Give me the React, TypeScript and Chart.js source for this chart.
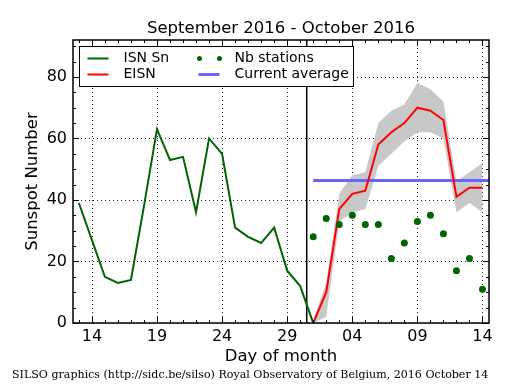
import React, { useEffect, useRef } from "react";
import { Chart, registerables } from "chart.js";

Chart.register(...registerables);

// ---- texts ----
const TITLE = "September 2016 - October 2016";
const X_TITLE = "Day of month";
const Y_TITLE = "Sunspot Number";
const FOOTER = "SILSO graphics (http://sidc.be/silso) Royal Observatory of Belgium, 2016 October 14";

// ---- data (day numbers counted from 1 September 2016; 1 October = 31) ----
const isnStartDay = 13;
const isnValues = [39, 27, 15, 13, 14, 38, 63, 53, 54, 36, 60, 55, 31, 28, 26, 31, 17, 12, 0];

const eisnStartDay = 31;
const eisnValues = [0, 10, 37, 42, 43, 58, 62, 65, 70, 69, 66, 41, 44, 44];
const eisnUpper = [1, 13, 42, 48, 49, 65, 69, 71, 78, 76, 72, 46, 49, 52];
const eisnLower = [0, 2, 33, 36, 37, 51, 55, 59, 62, 62, 60, 36, 39, 36];
const nbStations = [28, 34, 32, 35, 32, 32, 21, 26, 33, 35, 29, 17, 21, 11];

const currentAverage = 46.3;
const averageDays = [31, 45];
const markerDay = 30.5;

const xTickDays = [14, 19, 24, 29, 34, 39, 44];
const xTickLabels = ["14", "19", "24", "29", "04", "09", "14"];
const yTicks = [0, 20, 40, 60, 80];
const xRange = [12.55, 44.5];
const yRange = [0, 92];

// ---- styles ----
const FONT = "'DejaVu Sans', 'Bitstream Vera Sans', sans-serif";
const GREEN = "#006400";
const RED = "#ff0000";
const BLUE = "#6666ff";
const BAND = "rgb(200,200,200)";

const W = 515;
const H = 390;

const decorPlugin = {
  id: "decor",
  beforeDatasetsDraw(chart: any) {
    const { ctx, chartArea: a, scales } = chart;
    const xs = scales.x;
    const ys = scales.y;
    ctx.save();
    ctx.strokeStyle = "rgba(0,0,0,0.85)";
    ctx.lineWidth = 1;
    ctx.setLineDash([1, 3]);
    for (const d of xTickDays) {
      const px = Math.round(xs.getPixelForValue(d)) + 0.5;
      ctx.beginPath();
      ctx.moveTo(px, a.top);
      ctx.lineTo(px, a.bottom);
      ctx.stroke();
    }
    for (const v of yTicks) {
      const py = Math.round(ys.getPixelForValue(v)) + 0.5;
      ctx.beginPath();
      ctx.moveTo(a.left, py);
      ctx.lineTo(a.right, py);
      ctx.stroke();
    }
    ctx.restore();
  },
  afterDatasetsDraw(chart: any) {
    const { ctx, chartArea: a, scales } = chart;
    const xs = scales.x;
    const ys = scales.y;
    ctx.save();
    ctx.strokeStyle = "#000";
    ctx.lineWidth = 1;
    const major = 6;
    const minor = 3;
    for (let d = Math.ceil(xRange[0]); d <= xRange[1]; d++) {
      const len = xTickDays.includes(d) ? major : minor;
      const px = Math.round(xs.getPixelForValue(d)) + 0.5;
      ctx.beginPath();
      ctx.moveTo(px, a.bottom);
      ctx.lineTo(px, a.bottom - len);
      ctx.moveTo(px, a.top);
      ctx.lineTo(px, a.top + len);
      ctx.stroke();
    }
    for (let v = yRange[0]; v <= yRange[1]; v += 5) {
      const len = yTicks.includes(v) ? major : minor;
      const py = Math.round(ys.getPixelForValue(v)) + 0.5;
      ctx.beginPath();
      ctx.moveTo(a.left, py);
      ctx.lineTo(a.left + len, py);
      ctx.moveTo(a.right, py);
      ctx.lineTo(a.right - len, py);
      ctx.stroke();
    }
    ctx.lineWidth = 1.5;
    ctx.strokeRect(a.left, a.top, a.right - a.left, a.bottom - a.top);
    ctx.restore();
  },
  afterDraw(chart: any) {
    const { ctx, chartArea: a } = chart;
    ctx.save();
    // legend
    const bx = a.left + 6.5;
    const by = a.top + 6.5;
    const bw = 274;
    const bh = 40;
    ctx.fillStyle = "#fff";
    ctx.fillRect(bx, by, bw, bh);
    ctx.strokeStyle = "#000";
    ctx.lineWidth = 1;
    ctx.strokeRect(bx, by, bw, bh);
    ctx.font = `14px ${FONT}`;
    ctx.textBaseline = "middle";
    ctx.textAlign = "left";
    const ds = chart.data.datasets;
    const row1 = by + 12;
    const row2 = by + 28;
    const drawLineSample = (x: number, y: number, color: string, w: number) => {
      ctx.strokeStyle = color;
      ctx.lineWidth = w;
      ctx.beginPath();
      ctx.moveTo(x, y);
      ctx.lineTo(x + 21, y);
      ctx.stroke();
    };
    // col 1
    drawLineSample(bx + 8, row1, ds[1].borderColor, 2);
    ctx.fillStyle = "#000";
    ctx.fillText(ds[1].label, bx + 44, row1);
    drawLineSample(bx + 8, row2, ds[2].borderColor, 2);
    ctx.fillStyle = "#000";
    ctx.fillText(ds[2].label, bx + 44, row2);
    // col 2
    ctx.fillStyle = ds[0].backgroundColor;
    for (const ox of [120, 140]) {
      ctx.beginPath();
      ctx.arc(bx + ox, row1, 2.5, 0, Math.PI * 2);
      ctx.fill();
    }
    ctx.fillStyle = "#000";
    ctx.fillText(ds[0].label, bx + 155, row1);
    drawLineSample(bx + 119, row2, ds[3].borderColor, 3);
    ctx.fillStyle = "#000";
    ctx.fillText(ds[3].label, bx + 155, row2);

    // titles
    const cx = (a.left + a.right) / 2;
    ctx.fillStyle = "#000";
    ctx.textAlign = "center";
    ctx.textBaseline = "alphabetic";
    ctx.font = `16.5px ${FONT}`;
    ctx.fillText(TITLE, cx, 33);
    ctx.fillText(X_TITLE, cx, 361);
    ctx.save();
    ctx.translate(37, (a.top + a.bottom) / 2);
    ctx.rotate(-Math.PI / 2);
    ctx.fillText(Y_TITLE, 0, 0);
    ctx.restore();

    // footer
    ctx.textAlign = "left";
    ctx.font = `11px 'DejaVu Serif', serif`;
    const mw = ctx.measureText(FOOTER).width;
    const fs = (11 * 477) / mw;
    ctx.font = `${fs}px 'DejaVu Serif', serif`;
    ctx.fillText(FOOTER, 12, 378);
    ctx.restore();
  },
};

export default function App() {
  const ref = useRef<HTMLCanvasElement | null>(null);

  useEffect(() => {
    if (!ref.current) return;
    const isnData = isnValues.map((v, i) => ({ x: isnStartDay + i, y: v }));
    const eisnData = eisnValues.map((v, i) => ({ x: eisnStartDay + i, y: v }));
    const upData = eisnUpper.map((v, i) => ({ x: eisnStartDay + i, y: v }));
    const loData = eisnLower.map((v, i) => ({ x: eisnStartDay + i, y: v }));
    const nbData = nbStations.map((v, i) => ({ x: eisnStartDay + i, y: v }));
    const avgData = averageDays.map((d) => ({ x: d, y: currentAverage }));
    const markerData = yRange.map((v) => ({ x: markerDay, y: v }));

    const chart = new Chart(ref.current, {
      type: "line",
      data: {
        datasets: [
          {
            label: "Nb stations",
            data: nbData,
            showLine: false,
            pointRadius: 3.5,
            pointBorderWidth: 0,
            backgroundColor: GREEN,
            borderColor: GREEN,
            order: 0,
          },
          {
            label: "ISN Sn",
            data: isnData,
            borderColor: GREEN,
            borderWidth: 2,
            pointRadius: 0,
            tension: 0,
            fill: false,
            order: 1,
          },
          {
            label: "EISN",
            data: eisnData,
            borderColor: RED,
            borderWidth: 2,
            pointRadius: 0,
            tension: 0,
            fill: false,
            order: 2,
          },
          {
            label: "Current average",
            data: avgData,
            borderColor: BLUE,
            borderWidth: 3,
            pointRadius: 0,
            fill: false,
            order: 3,
          },
          {
            label: "marker",
            data: markerData,
            borderColor: "#000",
            borderWidth: 1.5,
            pointRadius: 0,
            fill: false,
            order: 4,
          },
          {
            label: "upper",
            data: upData,
            borderWidth: 0,
            borderColor: BAND,
            backgroundColor: BAND,
            pointRadius: 0,
            tension: 0,
            fill: "+1",
            order: 5,
          },
          {
            label: "lower",
            data: loData,
            borderWidth: 0,
            borderColor: BAND,
            backgroundColor: BAND,
            pointRadius: 0,
            tension: 0,
            fill: false,
            order: 6,
          },
        ],
      },
      options: {
        animation: false,
        responsive: false,
        devicePixelRatio: 1,
        events: [],
        layout: { padding: { top: 40, right: 26, left: 0, bottom: 0 } },
        plugins: {
          legend: { display: false },
          tooltip: { enabled: false },
          title: { display: false },
        },
        scales: {
          x: {
            type: "linear",
            min: xRange[0],
            max: xRange[1],
            grid: { display: false, drawTicks: false },
            border: { display: false },
            afterBuildTicks: (s: any) => {
              s.ticks = xTickDays.map((v) => ({ value: v }));
            },
            afterFit: (s: any) => {
              s.height = 67;
            },
            ticks: {
              autoSkip: false,
              maxRotation: 0,
              padding: 4,
              color: "#000",
              font: { family: FONT, size: 16 },
              callback: (_v: any, i: number) => xTickLabels[i],
            },
          },
          y: {
            type: "linear",
            min: yRange[0],
            max: yRange[1],
            grid: { display: false, drawTicks: false },
            border: { display: false },
            afterBuildTicks: (s: any) => {
              s.ticks = yTicks.map((v) => ({ value: v }));
            },
            afterFit: (s: any) => {
              s.width = 73;
            },
            ticks: {
              padding: 6,
              color: "#000",
              font: { family: FONT, size: 16 },
              callback: (v: any) => String(v),
            },
          },
        },
      },
      plugins: [decorPlugin],
    } as any);
    return () => chart.destroy();
  }, []);

  return (
    <div style={{ position: "fixed", left: 0, top: 0, width: W, height: H, background: "#fff" }}>
      <canvas ref={ref} width={W} height={H} style={{ display: "block", width: W, height: H }} />
    </div>
  );
}
